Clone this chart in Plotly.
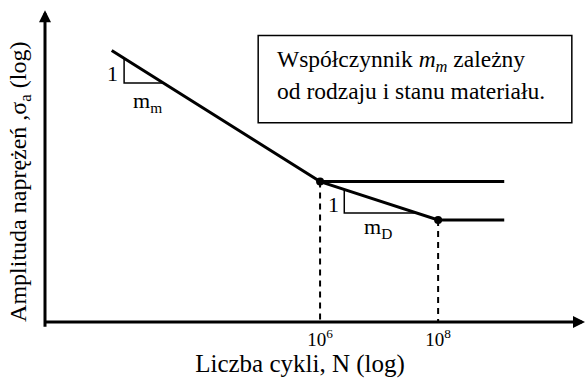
import plotly.graph_objects as go

# +
# data: log10(N) on x, log10(sigma_a) on y
# -
upper_x = [2.47, 6.0, 9.12]
upper_y = [4.25, 2.0, 2.0]
lower_x = [6.0, 8.0, 9.12]
lower_y = [2.0, 1.34, 1.34]
knee_x = [6.0, 8.0]
knee_y = [2.0, 1.34]
tick_vals = [6, 8]
tick_text = ['10<sup>6</sup>', '10<sup>8</sup>']

# slope triangles (1 : m)
tri_m_x = [2.68, 2.68, 3.34]
tri_m_y = [4.12, 3.69, 3.69]
tri_d_x = [6.41, 6.41, 7.64]
tri_d_y = [1.865, 1.46, 1.46]

x_range = [1.34, 9.98]
y_range = [-0.41, 4.91]

FONT = '"Liberation Serif", "Times New Roman", Times, serif'

fig = go.Figure()

# curve
fig.add_trace(go.Scatter(x=upper_x, y=upper_y, mode='lines',
                         line=dict(color='black', width=3)))
fig.add_trace(go.Scatter(x=lower_x, y=lower_y, mode='lines',
                         line=dict(color='black', width=3)))

# dashed drop lines
for kx, ky in zip(knee_x, knee_y):
    fig.add_trace(go.Scatter(x=[kx, kx], y=[ky, y_range[0]], mode='lines',
                             line=dict(color='black', width=2, dash='6px,5px')))

# knee points
fig.add_trace(go.Scatter(x=knee_x, y=knee_y, mode='markers',
                         marker=dict(color='black', size=8)))

# triangles
fig.add_trace(go.Scatter(x=tri_m_x, y=tri_m_y, mode='lines',
                         line=dict(color='black', width=1.5)))
fig.add_trace(go.Scatter(x=tri_d_x, y=tri_d_y, mode='lines',
                         line=dict(color='black', width=1.5)))

txt = dict(family=FONT, size=22, color='black')
labels = [
    (2.49, 3.86, '1'),
    (3.08, 3.37, 'm<sub>m</sub>'),
    (6.22, 1.61, '1'),
    (6.98, 1.20, 'm<sub>D</sub>'),
]
for lx, ly, lt in labels:
    fig.add_annotation(x=lx, y=ly, text=lt, showarrow=False, font=txt)

# axis arrows
fig.add_annotation(x=1.059, y=0, xref='paper', yref='paper', text='',
                   showarrow=True, axref='pixel', ayref='pixel', ax=-541, ay=0,
                   arrowhead=2, arrowsize=0.8, arrowwidth=3, arrowcolor='black')
fig.add_annotation(x=0, y=1.006, xref='paper', yref='paper', text='',
                   showarrow=True, axref='pixel', ayref='pixel', ax=0, ay=318,
                   arrowhead=2, arrowsize=0.8, arrowwidth=3, arrowcolor='black')

# y title
fig.add_annotation(x=-0.049, y=0.452, xref='paper', yref='paper',
                   xanchor='center', yanchor='middle', textangle=-90,
                   text='Amplituda naprężeń ,σ<sub>a</sub> (log)', showarrow=False,
                   font=dict(family=FONT, size=24, color='black'))

# note box
box_txt = dict(family=FONT, size=23.5, color='black')
fig.add_shape(type='rect', xref='paper', yref='paper',
              x0=0.418, x1=1.033, y0=0.643, y1=0.924,
              line=dict(color='black', width=1.5))
fig.add_annotation(x=0.451, y=0.841, xref='paper', yref='paper',
                   xanchor='left', yanchor='middle',
                   text='Współczynnik <i>m<sub>m</sub></i> zależny',
                   showarrow=False, font=box_txt)
fig.add_annotation(x=0.451, y=0.745, xref='paper', yref='paper',
                   xanchor='left', yanchor='middle',
                   text='od rodzaju i stanu materiału.',
                   showarrow=False, font=box_txt)

fig.update_layout(
    width=586, height=382,
    margin=dict(l=45, r=31, t=12, b=56),
    paper_bgcolor='white', plot_bgcolor='white',
    showlegend=False,
    font=dict(family=FONT, color='black'),
    xaxis=dict(range=x_range, showgrid=False, zeroline=False, showline=False,
               tickvals=tick_vals, ticktext=tick_text, ticks='',
               ticklabelstandoff=4,
               tickfont=dict(family=FONT, size=19),
               title=dict(text='Liczba cykli, N (log)', standoff=2,
                          font=dict(family=FONT, size=25))),
    yaxis=dict(range=y_range, showgrid=False, zeroline=False, showline=False,
               showticklabels=False),
)

fig.write_html('out.html', config={'displayModeBar': False},
               post_script="document.body.style.margin='0';document.body.style.overflow='hidden';")
